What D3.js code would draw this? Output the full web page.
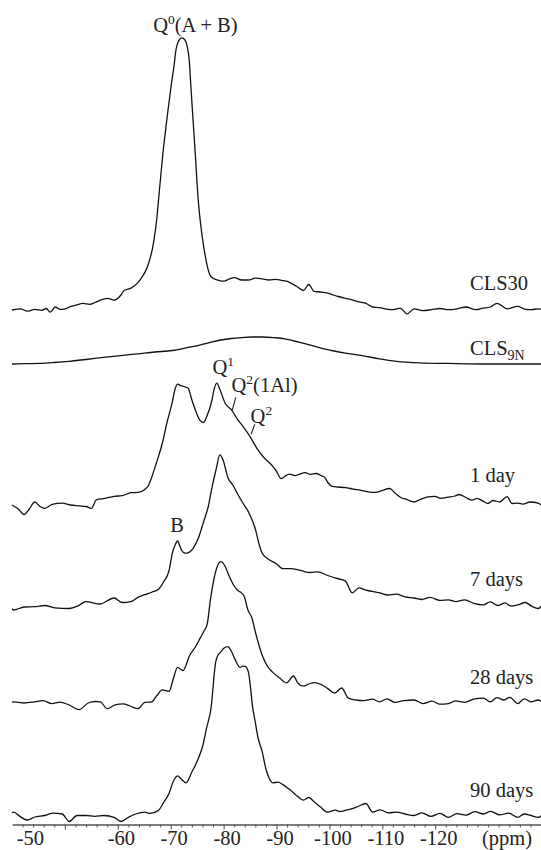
<!DOCTYPE html>
<html><head><meta charset="utf-8">
<script src="https://cdn.jsdelivr.net/npm/d3@7"></script>
<style>html,body{margin:0;padding:0;background:#fff;} svg{display:block;}</style>
</head><body>
<svg id="chart" width="541" height="850"></svg>
<script>
// ---------- DATA (ppm, intensity in arbitrary units) ----------
const seriesNames = ["CLS30", "CLS9N", "1 day", "7 days", "28 days", "90 days"];
const stackOffsets = [168, 150, 103, 69, 37, 0];

const cls30 = [[-40,0],[-41.6,0.4],[-42.9,-0.4],[-44.3,0.2],[-45.6,-0.1],[-46.5,0.5],[-47.2,-0.7],[-48.2,1.0],[-49.1,0.2],[-50.1,0.4],[-51.1,1.2],[-52.1,1.6],[-53.4,2.2],[-54.7,1.9],[-55.7,2.5],[-56.7,3.3],[-58.0,3.9],[-59.3,3.3],[-60.6,5.0],[-61.2,6.5],[-62.5,7.3],[-63.8,9.1],[-64.5,10.8],[-65.2,12.8],[-65.8,15.4],[-66.8,22.9],[-67.4,30.9],[-67.7,36.7],[-68.5,51.7],[-69.5,66.7],[-70.1,75],[-70.6,81],[-71.0,86.7],[-71.4,89.3],[-72.1,90.7],[-72.7,90],[-73.1,88],[-73.5,83.3],[-73.8,75],[-74.1,66.7],[-74.6,53.3],[-75.2,36.7],[-75.9,25.2],[-76.5,18.3],[-77.5,11.4],[-78.2,10.4],[-79.2,9.8],[-80.1,9.6],[-81.1,10.4],[-82.1,10.8],[-83.4,10.0],[-84.7,10.0],[-86.0,10.6],[-87.3,10.4],[-88.6,10.0],[-89.9,10.2],[-90.9,9.9],[-91.9,9.6],[-92.9,8.8],[-93.8,7.9],[-95.1,6.5],[-96.1,8.5],[-97.1,6.2],[-98.4,6.0],[-99.7,5.6],[-100.7,5.0],[-101.7,4.5],[-103.0,3.9],[-104.3,3.4],[-105.6,2.7],[-106.9,2.2],[-108.2,1.0],[-109.5,0.8],[-110.8,0.3],[-112.1,0.1],[-113.4,0.6],[-114.7,-1.3],[-116.0,0.4],[-117.6,-0.2],[-119.3,0.1],[-120.9,0.5],[-122.5,0.1],[-124.2,0.4],[-125.8,1.0],[-127.7,0.1],[-129.0,0.6],[-130.4,1.0],[-131.7,2.2],[-133.6,0.4],[-135.6,1.2],[-136.9,0.3],[-138.2,0.1],[-139.5,0.4],[-140,0.3]];

const cls9n = [[-40,0],[-42.5,0.1],[-45.3,0.2],[-48,0.5],[-50.8,0.9],[-54,1.5],[-57.3,2.2],[-60.5,2.8],[-63.8,3.4],[-67,4.0],[-70.3,4.5],[-73,5.4],[-75.5,6.3],[-77.5,7.2],[-79.5,8.0],[-81.5,8.5],[-83.5,8.8],[-85.5,9.0],[-87.3,9.0],[-89.5,8.8],[-91.6,8.4],[-93,7.8],[-94.4,7.2],[-96.4,6.3],[-98.4,5.3],[-100.4,4.5],[-103,3.6],[-106.2,2.8],[-109.5,1.7],[-112.7,0.9],[-117.1,0.4],[-122.5,0.2],[-130.4,0],[-140,0]];

const day1 = [[-40,0],[-41.3,-1.5],[-42.3,-3.2],[-43.2,-1.5],[-44.3,1],[-45.3,-0.5],[-46.2,-1.1],[-47.6,0.2],[-49.5,0.6],[-51.0,0],[-52.7,-0.3],[-54.0,-0.5],[-55.0,-1.1],[-56.0,1.8],[-57.6,2.2],[-59.3,2.9],[-60.8,3.1],[-62.5,4.1],[-63.8,4.2],[-65.1,5.2],[-65.8,6.5],[-66.4,9.2],[-67.2,13.5],[-68.4,20.5],[-69.3,27.5],[-70.3,34.3],[-70.8,38.5],[-71.3,40.3],[-71.9,39.8],[-72.5,39.5],[-73.3,38.9],[-74.0,35],[-74.8,31],[-75.5,28.3],[-76.2,27.5],[-76.8,29.4],[-77.8,35],[-78.2,38.5],[-78.7,40.6],[-79.3,38.5],[-80.3,33.9],[-81.5,31.7],[-82.5,28.9],[-83.7,26.1],[-85.0,22.8],[-86.3,18.9],[-87.5,16.1],[-88.4,14.5],[-89.3,12.9],[-89.9,11.5],[-90.9,8.8],[-91.6,9.6],[-92.5,10.3],[-93.5,9.8],[-94.4,10.3],[-95.4,10.8],[-96.4,10.2],[-97.5,10.5],[-98.2,10.0],[-99.1,9.2],[-99.7,7.5],[-100.4,6.3],[-101.6,6.0],[-103.0,5.8],[-104.5,5.3],[-106.2,4.8],[-107.5,4.3],[-108.8,4.2],[-109.9,4.8],[-111.4,5.5],[-112.4,4.0],[-113.5,2.5],[-114.7,1.8],[-116.0,1.0],[-117.1,1.8],[-118.4,2.6],[-119.9,2.9],[-121.1,2.2],[-122.4,2.6],[-123.7,3.0],[-124.5,3.5],[-125.8,2.5],[-127.0,1.6],[-127.9,2.2],[-129.1,1.2],[-130.0,0.5],[-130.9,1.5],[-132.2,1.0],[-133.6,2.8],[-134.5,0.5],[-135.6,0.6],[-136.6,0.3],[-137.9,1.0],[-139.5,0.6],[-140,0]];

const day7 = [[-40,-0.6],[-40.3,-1.0],[-42.3,0],[-44.3,0.1],[-46.2,0.5],[-48.1,-0.3],[-50.8,-0.5],[-52.5,0.4],[-54.0,1.8],[-56.6,1.0],[-59.3,3],[-60.8,1.5],[-62.5,1.8],[-63.8,3.2],[-65.1,4.1],[-66.5,5.0],[-67.7,5.9],[-68.7,8.5],[-69.7,12.2],[-70.3,17.9],[-70.8,20.5],[-71.3,22],[-71.8,20],[-72.3,18.3],[-72.9,17.9],[-74.3,19.7],[-75.2,22.8],[-76.2,28.3],[-77.1,33.5],[-77.8,39.8],[-78.6,46],[-79.3,50.7],[-79.9,49],[-80.8,43.2],[-81.8,40.5],[-82.7,37.5],[-83.7,34.5],[-84.7,31.7],[-86.0,26],[-86.7,21],[-87.3,17.9],[-88.4,16],[-89.9,14.5],[-91.2,12.8],[-92.7,12.8],[-94.5,12.2],[-96.3,11.5],[-97.8,11.7],[-99.7,10.5],[-101.2,9.6],[-103.0,8.7],[-104.3,4.7],[-105.6,6.4],[-106.9,5.6],[-108.1,5.2],[-109.5,4.7],[-111.1,4.0],[-112.6,4.3],[-114.3,3.4],[-116.0,3],[-117.5,2.5],[-119.0,3.2],[-120.9,2.2],[-122.5,2.4],[-123.9,1.8],[-125.6,2.4],[-127.3,1.2],[-129.1,0.7],[-130.4,1.7],[-131.9,0.5],[-133.2,1.4],[-134.3,0.3],[-135.6,0.7],[-137.0,1.5],[-138.3,0.2],[-139.5,-0.5],[-140,0.3]];

const day28 = [[-40,0.2],[-40.3,0.4],[-42.3,0.0],[-44.3,0.4],[-45.9,0.8],[-47.5,-0.2],[-49.1,0.3],[-50.6,-0.5],[-52.7,-2.2],[-54.4,0],[-55.7,0.5],[-56.7,0.4],[-58.0,-1.9],[-59.5,-0.6],[-61.0,-0.3],[-62.3,-1.0],[-63.8,-1.9],[-65.1,0.2],[-66.4,0.4],[-67.4,2.5],[-68.4,4.4],[-69.7,3.9],[-70.4,7.5],[-71.3,11.9],[-72.3,10.8],[-73.6,15.9],[-74.6,18.5],[-75.6,21.7],[-76.3,24],[-76.9,26.3],[-77.5,34.3],[-78.2,41.5],[-78.8,45.5],[-79.5,47.1],[-80.3,45.5],[-81.0,42.5],[-82.0,39],[-82.7,37.5],[-83.4,36.7],[-83.9,35.5],[-84.6,31],[-85.3,28.6],[-86.1,23],[-87.3,15.9],[-88.2,12.5],[-89.3,10.2],[-90.5,8.5],[-91.9,6.7],[-93.2,9],[-94.1,6.5],[-95.1,5.6],[-96.3,6.5],[-97.3,6.8],[-98.4,6.2],[-99.7,4.8],[-101.0,3.3],[-102.3,5],[-103.6,1.6],[-105.0,1.0],[-106.5,0.8],[-108.1,1.3],[-109.5,0.4],[-110.9,1.4],[-112.4,0.2],[-114.1,0.8],[-116.0,1],[-117.7,-0.2],[-119.4,0.6],[-120.9,-0.4],[-122.5,-0.2],[-123.9,0.7],[-125.6,0.2],[-127.3,1.3],[-129.1,1.6],[-130.4,0.4],[-131.7,1.8],[-133.0,1],[-134.1,1.9],[-135.6,-0.2],[-136.8,1.4],[-138.1,0.4],[-139.5,1],[-140,0.5]];

const day90 = [[-40,0.4],[-40.3,0.6],[-41.5,-0.8],[-42.9,-2],[-44.3,-1],[-46.2,-0.5],[-47.8,0.3],[-49.5,0],[-50.8,-2.5],[-52.3,-0.5],[-54.0,-0.5],[-55.7,-0.8],[-57.4,-0.5],[-59.3,-1.1],[-60.6,-2.5],[-61.9,-1.2],[-63.4,0],[-65.1,0.6],[-66.1,0.2],[-67.7,1.2],[-68.7,4],[-69.7,6.9],[-70.4,10.5],[-71.3,12.7],[-71.9,11.8],[-72.9,10.4],[-74.0,14],[-75.2,18.4],[-76.1,23],[-76.8,28.8],[-77.6,35],[-78.5,50.6],[-78.9,52.8],[-79.5,54.1],[-80.1,55.3],[-80.8,55.8],[-81.4,54.5],[-82.1,51.8],[-83.1,48.9],[-83.7,49.3],[-84.1,49.2],[-84.7,47.2],[-85.1,42],[-85.4,36.8],[-86.0,30.5],[-86.5,25.5],[-87.3,20.7],[-88.0,15],[-88.6,12],[-89.3,10.4],[-90.3,10.6],[-91.2,9.8],[-92.6,8],[-93.9,6],[-95.1,4.6],[-96.1,5.5],[-97.1,4.1],[-98.2,2.5],[-99.7,0.6],[-101.1,1.3],[-102.0,0.8],[-103.0,1.2],[-104.3,1.8],[-105.4,2.5],[-106.9,3.5],[-108.2,0.6],[-109.6,1.4],[-111.1,0.4],[-112.7,0.6],[-114.3,0],[-116.0,-0.5],[-117.5,0.4],[-119.2,-0.8],[-120.9,0.2],[-122.5,-1.1],[-124.1,0.1],[-125.8,-0.4],[-127.5,0.8],[-129.1,0],[-130.5,0.9],[-132.2,-0.3],[-133.9,0.3],[-135.6,-1.1],[-136.8,0],[-138.1,-0.5],[-139.5,-1.1],[-140,-0.6]];

const majorTicks = [-50, -60, -70, -80, -90, -100, -110, -120];
const minorTicks = [-42,-44,-46,-48,-52,-54,-56,-58,-62,-64,-66,-68,-72,-74,-76,-78,-82,-84,-86,-88,-92,-94,-96,-98,-102,-104,-106,-108,-112,-114,-116,-118,-122,-124,-126,-128,-130,-132,-134,-136,-138];
const axisUnit = "(ppm)";

// annotations: [text, ppm, intensity(level incl. series), series index]
const peakLabels = [
  {main:"Q", sup:"0", rest:"(A + B)", ppm:-66.7, level:92.7, s:0},
  {main:"Q", sup:"1", rest:"", ppm:-77.9, level:43.7, s:2},
  {main:"Q", sup:"2", rest:"(1Al)", ppm:-81.5, level:37.8, s:2},
  {main:"Q", sup:"2", rest:"", ppm:-85.1, level:27.2, s:2},
  {main:"B", sup:"", rest:"", ppm:-71.2, level:25, s:3, center:true}
];
const leaders = [
  {s:2, from:[-82.3, 35.9], to:[-81.6, 31.4]},
  {s:2, from:[-85.9, 26.9], to:[-85.2, 23.6]}
];

// ---------- DRAW ----------
const seriesData = [cls30, cls9n, day1, day7, day28, day90];
const series = seriesNames.map((n, i) => ({name: n, off: stackOffsets[i], data: seriesData[i]}));

const svg = d3.select("#chart");
const FONT = "'Liberation Serif','Times New Roman',Times,serif";
const x = d3.scaleLinear().domain([-40, -140]).range([12, 541]);
const y = d3.scaleLinear().domain([0, 270]).range([814, 4]);

svg.append("g").selectAll("path").data(series).join("path")
  .attr("d", s => d3.line().x(d => x(d[0])).y(d => y(d[1] + s.off)).curve(d3.curveMonotoneX)(s.data))
  .attr("fill", "none").attr("stroke", "#111").attr("stroke-width", 1.3).attr("stroke-linejoin", "round");

// series labels
const labelDy = [-20, -9, -23, -21, -19, -17];
const lab = svg.append("g").attr("font-family", FONT).attr("font-size", 20.5).attr("fill", "#222");
series.forEach((s, i) => {
  const t = lab.append("text").attr("x", 470).attr("y", y(s.off) + labelDy[i]);
  if (s.name === "CLS9N") {
    t.append("tspan").text("CLS");
    t.append("tspan").attr("font-size", 14).attr("dy", 5).text("9N");
  } else t.text(s.name);
});

// peak labels
peakLabels.forEach(p => {
  const t = lab.append("text").attr("x", x(p.ppm)).attr("y", y(p.level + stackOffsets[p.s]))
    .attr("text-anchor", p.center ? "middle" : "start");
  t.append("tspan").text(p.main);
  if (p.sup) t.append("tspan").attr("font-size", 13.5).attr("dy", -8).text(p.sup);
  if (p.rest) t.append("tspan").attr("dy", p.sup ? 8 : 0).text(p.rest);
});
svg.append("g").selectAll("line").data(leaders).join("line")
  .attr("x1", d => x(d.from[0])).attr("y1", d => y(d.from[1] + stackOffsets[d.s]))
  .attr("x2", d => x(d.to[0])).attr("y2", d => y(d.to[1] + stackOffsets[d.s]))
  .attr("stroke", "#222").attr("stroke-width", 1.1);

// axis
const axisY = 824.5;
const gMinor = svg.append("g").attr("transform", `translate(0,${axisY})`)
  .call(d3.axisBottom(x).tickValues(minorTicks).tickSize(3).tickSizeOuter(0).tickFormat(""));
gMinor.select(".domain").attr("stroke", "#555").attr("stroke-width", 1.6);
gMinor.selectAll(".tick line").attr("stroke", "#555").attr("stroke-width", 1);
const gMajor = svg.append("g").attr("transform", `translate(0,${axisY})`)
  .call(d3.axisBottom(x).tickValues(majorTicks).tickSize(5).tickSizeOuter(0).tickFormat(d => String(d)));
gMajor.select(".domain").remove();
gMajor.selectAll(".tick line").attr("stroke", "#555").attr("stroke-width", 1.1);
gMajor.selectAll(".tick text").attr("font-family", FONT).attr("font-size", 20.5).attr("fill", "#222")
  .attr("y", 20.5).attr("dy", null).attr("dx", d => d === -50 ? -35 : 3);
svg.append("text").attr("x", 507).attr("y", axisY + 20.5).attr("text-anchor", "middle")
  .attr("font-family", FONT).attr("font-size", 20.5).attr("fill", "#222").text(axisUnit);
</script>
</body></html>
